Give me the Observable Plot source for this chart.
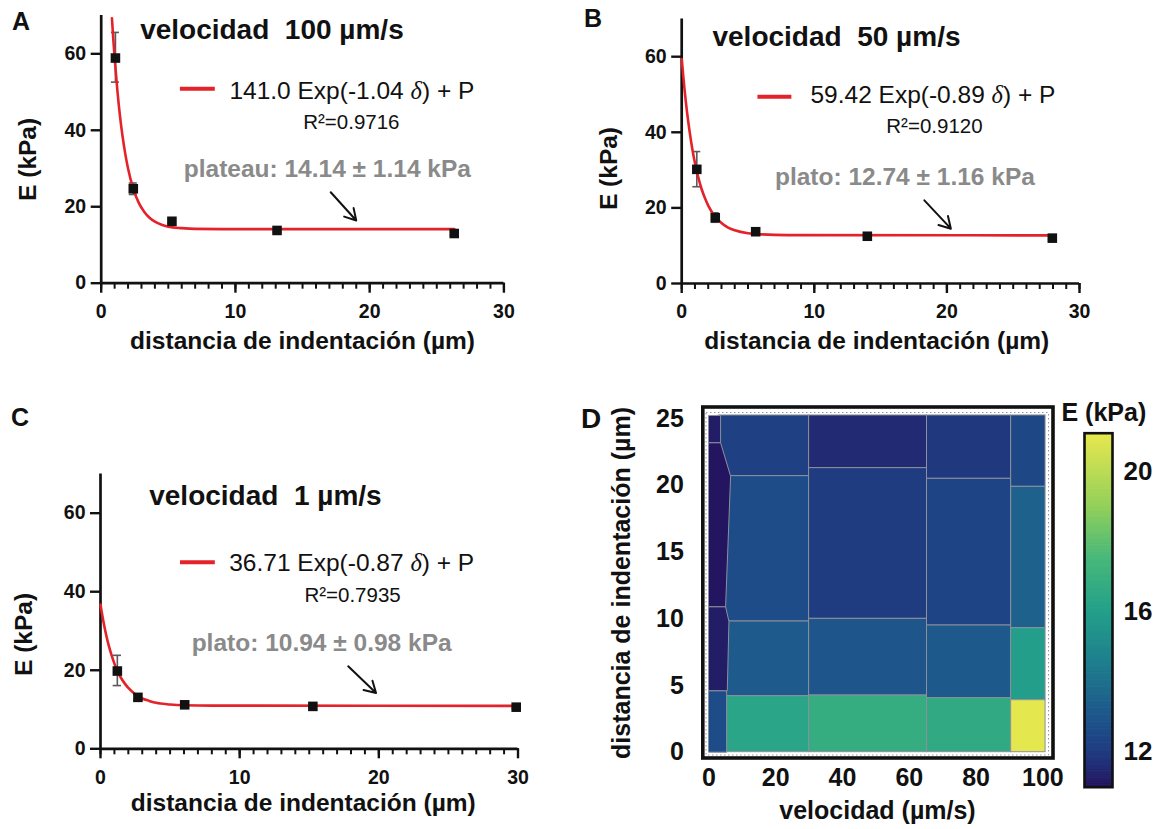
<!DOCTYPE html>
<html><head><meta charset="utf-8">
<script src="https://cdn.jsdelivr.net/npm/d3@7"></script>
<script src="https://cdn.jsdelivr.net/npm/@observablehq/plot@0.6"></script>
<style>
html,body{margin:0;padding:0;background:#fff;}
#fig{position:relative;width:1172px;height:829px;overflow:hidden;background:#fff;}
.panel{position:absolute;}
.panel svg{overflow:visible;display:block;}
#letters{position:absolute;left:0;top:0;}
</style></head><body><div id="fig"></div>
<script>
// ---------- Tick values ----------
const depthTicks = [0, 10, 20, 30];
const eTicks = [0, 20, 40, 60];
const velTicks = [0, 20, 40, 60, 80, 100];
const depthMapTicks = [0, 5, 10, 15, 20, 25];
const colorbarTicks = [12, 16, 20];

// ---------- Panel A: velocidad 100 µm/s ----------
const aDepth = [1.06, 2.39, 5.27, 13.1, 26.3];
const aE     = [58.9, 24.7, 16.2, 13.8, 13.0];
const aLo    = [52.6, 23.2, 15.7, 13.4, 12.6];
const aHi    = [65.6, 26.2, 16.7, 14.2, 13.4];
const aFitX  = [0.8, 0.9, 1.0, 1.2, 1.4, 1.6, 1.8, 2.0, 2.4, 2.8, 3.2, 3.6, 4.0, 4.5, 5.0, 6.0, 7.0, 9.0, 26.3];
const aFitE  = [69.3, 63.9, 59.0, 50.6, 43.7, 38.2, 33.7, 30.0, 24.6, 21.0, 18.7, 17.1, 16.1, 15.3, 14.8, 14.4, 14.2, 14.15, 14.14];

// ---------- Panel B: velocidad 50 µm/s ----------
const bDepth = [1.14, 2.53, 5.58, 14.0, 27.95];
const bE     = [30.2, 17.4, 13.7, 12.5, 12.0];
const bLo    = [25.6, 16.2, 13.2, 12.1, 11.6];
const bHi    = [34.9, 18.7, 14.2, 12.9, 12.4];
const bFitX  = [0, 0.2, 0.4, 0.6, 0.8, 1.0, 1.25, 1.5, 1.75, 2.0, 2.5, 3.0, 3.5, 4.0, 5.0, 6.0, 8.0, 28.0];
const bFitE  = [59.4, 51.8, 45.4, 40.1, 35.6, 31.9, 28.1, 25.0, 22.6, 20.6, 17.8, 16.0, 14.8, 14.1, 13.3, 13.0, 12.8, 12.74];

// ---------- Panel C: velocidad 1 µm/s ----------
const cDepth = [1.21, 2.69, 6.05, 15.26, 29.87];
const cE     = [19.8, 13.1, 11.2, 10.8, 10.6];
const cLo    = [16.1, 12.3, 10.8, 10.5, 10.3];
const cHi    = [23.8, 13.9, 11.6, 11.1, 10.9];
const cFitX  = [0, 0.2, 0.4, 0.6, 0.8, 1.0, 1.25, 1.5, 1.75, 2.0, 2.5, 3.0, 3.5, 4.0, 5.0, 6.0, 8.0, 30.0];
const cFitE  = [36.7, 32.6, 29.1, 26.2, 23.8, 21.7, 19.6, 17.9, 16.6, 15.5, 13.9, 12.8, 12.2, 11.7, 11.3, 11.1, 11.0, 10.94];

// ---------- Panel D: map of E (kPa) vs velocidad and distancia ----------
const cellVel1   = [3.0, 3.0, 3.0, 3.0,   30, 30, 30, 30,   65.3, 65.3, 65.3, 65.3,   90.5, 90.5, 90.5, 90.5];
const cellVel2   = [30, 30, 30, 30,   65.3, 65.3, 65.3, 65.3,   90.5, 90.5, 90.5, 90.5,   100.8, 100.8, 100.8, 100.8];
const cellDepth1 = [20.7, 9.8, 4.2, 0,   21.3, 10.0, 4.25, 0,   20.5, 9.5, 4.05, 0,   19.9, 9.3, 3.9, 0];
const cellDepth2 = [25.25, 20.7, 9.8, 4.2,   25.25, 21.3, 10.0, 4.25,   25.25, 20.5, 9.5, 4.05,   25.25, 19.9, 9.3, 3.9];
const cellE      = [12.2, 12.6, 13.2, 16.3,   11.5, 12.0, 13.0, 16.8,   11.9, 12.3, 13.1, 16.6,   12.4, 13.4, 15.9, 21.0];
// slowest column (irregular outline)
const edgeVel   = [[0, 3.5, 3.5, 0], [0, 3.5, 6.5, 5.0, 0], [0, 5.0, 6.0, 5.5, 0], [0, 5.3, 5.3, 0]];
const edgeDepth = [[25.25, 25.25, 23.2, 23.2], [23.2, 23.2, 20.7, 10.9, 10.9], [10.9, 10.9, 9.8, 4.6, 4.6], [4.6, 4.6, 0, 0]];
const edgeE     = [11.2, 11.0, 11.2, 12.6];

// colour map
const colorStops = [11.0, 11.5, 12.0, 12.6, 13.3, 14.5, 16.0, 17.5, 19.0, 21.1];
const colorRange = ["#241560", "#212a72", "#1f3c81", "#1e4c89", "#1e5e8c", "#1e7e8d", "#23a08a", "#47b87a", "#94d05a", "#e9e84e"];

// ---------- styling ----------
const FONT = "'Liberation Sans', Arial, Helvetica, sans-serif";
const INK = "#111";
const RED = "#e4222a";
const GREY = "#8a8a8a";

const fig = document.getElementById("fig");
function place(node, left, top, w) {
  const div = document.createElement("div");
  div.className = "panel";
  div.style.left = left + "px"; div.style.top = top + "px"; div.style.width = w + "px";
  div.appendChild(node);
  fig.appendChild(div);
}
function italicDelta(svg) {
  svg.querySelectorAll("text").forEach(t => {
    if (t.children.length === 0 && t.textContent.includes("δ")) {
      const [a, b] = t.textContent.split("δ");
      t.textContent = "";
      t.append(document.createTextNode(a));
      const ts = document.createElementNS("http://www.w3.org/2000/svg", "tspan");
      ts.setAttribute("font-family", "'Liberation Serif', 'DejaVu Serif', serif");
      ts.setAttribute("font-style", "italic");
      ts.textContent = "δ";
      t.append(ts);
      t.append(document.createTextNode(b));
    }
  });
}

function fitPanel(p) {
  const pts = p.depth.map((d, i) => ({x: d, y: p.E[i], lo: p.lo[i], hi: p.hi[i]}));
  const fit = p.fitX.map((d, i) => ({x: d, y: p.fitE[i]}));
  const L = p.L, A = p.ann;
  const svg = Plot.plot({
    width: L.width, height: L.height,
    marginLeft: L.ml, marginRight: L.mr, marginTop: L.mt, marginBottom: L.mb,
    x: {domain: [0, 30]},
    y: {domain: [0, 70]},
    style: {fontFamily: FONT, color: INK, background: "transparent", overflow: "visible", fontWeight: "bold", fontSize: "19px"},
    marks: [
      Plot.axisX({ticks: d3.range(0, 31), tickSize: 6, strokeWidth: 2, tickFormat: () => "", label: null}),
      Plot.axisX({ticks: depthTicks, tickSize: 10, tickPadding: 11, strokeWidth: 2.4, fontSize: 19.5, fontWeight: "bold", label: null}),
      Plot.axisY({ticks: eTicks, tickSize: 10, tickPadding: 5, strokeWidth: 2.4, fontSize: 19.5, fontWeight: "bold", label: null}),
      Plot.ruleY([0], {stroke: INK, strokeWidth: 2.7}),
      Plot.ruleX([0], {stroke: INK, strokeWidth: 2.7}),
      Plot.ruleX(pts, {x: "x", y1: "lo", y2: "hi", stroke: "#5a5a5a", strokeWidth: 1.6}),
      Plot.ruleY(pts, {y: "hi", x1: d => d.x - 0.3, x2: d => d.x + 0.3, stroke: "#5a5a5a", strokeWidth: 1.6}),
      Plot.ruleY(pts, {y: "lo", x1: d => d.x - 0.3, x2: d => d.x + 0.3, stroke: "#5a5a5a", strokeWidth: 1.6}),
      Plot.line(fit, {x: "x", y: "y", stroke: RED, strokeWidth: 2.6, curve: "monotone-x"}),
      Plot.dot(pts, {x: "x", y: "y", symbol: "square", r: 5.4, fill: INK, stroke: "none"}),
      // title
      Plot.text([p.title], {x: A.titleX, y: A.titleY, textAnchor: "start", lineAnchor: "bottom", fontSize: 28, fontWeight: "bold"}),
      // legend
      Plot.ruleY([A.legY], {x1: A.legX1, x2: A.legX2, stroke: RED, strokeWidth: 4}),
      Plot.text([p.legend], {x: A.legTX, y: A.legTY, textAnchor: "start", lineAnchor: "bottom", fontSize: 24.5, fontWeight: "normal"}),
      Plot.text([p.r2], {x: A.r2X, y: A.r2Y, textAnchor: "start", lineAnchor: "bottom", fontSize: 20.5, fontWeight: "normal"}),
      Plot.text([p.plateau], {x: A.plX, y: A.plY, textAnchor: "start", lineAnchor: "bottom", fontSize: 24.5, fontWeight: "bold", fill: GREY}),
      Plot.arrow([0], {x1: A.ar[0], y1: A.ar[1], x2: A.ar[2], y2: A.ar[3], stroke: INK, strokeWidth: 2, headLength: 11}),
      // axis titles
      Plot.text(["distancia de indentación (µm)"], {frameAnchor: "bottom", dx: L.xlDx, dy: L.xlDy, lineAnchor: "bottom", fontSize: 24.5, fontWeight: "bold"}),
      Plot.text(["E (kPa)"], {frameAnchor: "left", rotate: -90, dx: L.ylDx, dy: L.ylDy, lineAnchor: "top", textAnchor: "middle", fontSize: 24.5, fontWeight: "bold"})
    ]
  });
  italicDelta(svg);
  return svg;
}

place(fitPanel({
  depth: aDepth, E: aE, lo: aLo, hi: aHi, fitX: aFitX, fitE: aFitE,
  title: "velocidad\u00a0\u00a0100 µm/s", legend: "141.0 Exp(-1.04 δ) + P", r2: "R²=0.9716",
  plateau: "plateau: 14.14 ± 1.14 kPa",
  L: {width: 586, height: 380, ml: 100.7, mr: 82.6, mt: 15.1, mb: 97.3, xlDx: 0, xlDy: 65.6, ylDx: -82.9, ylDy: 10},
  ann: {titleX: 2.9, titleY: 63.9, legX1: 5.9, legX2: 8.5, legY: 50.85, legTX: 9.55, legTY: 48.2,
        r2X: 15.05, r2Y: 40.4, plX: 6.15, plY: 27.7, ar: [17.1, 23.8, 19.0, 16.4]}
}), 0, 0, 586);

place(fitPanel({
  depth: bDepth, E: bE, lo: bLo, hi: bHi, fitX: bFitX, fitE: bFitE,
  title: "velocidad\u00a0\u00a050 µm/s", legend: "59.42 Exp(-0.89 δ) + P", r2: "R²=0.9120",
  plateau: "plato: 12.74 ± 1.16 kPa",
  L: {width: 592, height: 380, ml: 101.2, mr: 93, mt: 18.4, mb: 97, xlDx: -3.8, xlDy: 65.3, ylDx: -82.3, ylDy: 17.3},
  ann: {titleX: 2.32, titleY: 62.7, legX1: 5.75, legX2: 8.31, legY: 49.4, legTX: 9.71, legTY: 47.8,
        r2X: 15.43, r2Y: 39.7, plX: 7.03, plY: 26.0, ar: [18.3, 22.0, 20.3, 14.5]}
}), 580, 0, 592);

place(fitPanel({
  depth: cDepth, E: cE, lo: cLo, hi: cHi, fitX: cFitX, fitE: cFitE,
  title: "velocidad\u00a0\u00a01 µm/s", legend: "36.71 Exp(-0.87 δ) + P", r2: "R²=0.7935",
  plateau: "plato: 10.94 ± 0.98 kPa",
  L: {width: 586, height: 439, ml: 100, mr: 68.5, mt: 83.4, mb: 80.7, xlDx: -6, xlDy: 61.7, ylDx: -85.7, ylDy: 23.1},
  ann: {titleX: 3.5, titleY: 62.0, legX1: 5.75, legX2: 8.25, legY: 47.5, legTX: 9.25, legTY: 45.4,
        r2X: 14.65, r2Y: 37.3, plX: 6.55, plY: 25.0, ar: [17.8, 21.0, 19.8, 14.2]}
}), 0, 390, 586);

// ---------- Panel D ----------
const cells = cellE.map((e, i) => ({v1: cellVel1[i], v2: cellVel2[i], d1: cellDepth1[i], d2: cellDepth2[i], E: e}));
const edgePts = edgeE.flatMap((e, k) => edgeVel[k].map((v, j) => ({id: k, v, d: edgeDepth[k][j], E: e})));
const colorScale = {type: "linear", domain: colorStops, range: colorRange};

const mapSvg = Plot.plot({
  width: 480, height: 439, marginLeft: 128.4, marginRight: 17.6, marginTop: 28.3, marginBottom: 77.3,
  x: {domain: [0, 100]}, y: {domain: [0, 25]},
  color: colorScale,
  style: {fontFamily: FONT, color: INK, background: "transparent", overflow: "visible", fontWeight: "bold", fontSize: "25px"},
  marks: [
    Plot.rect(cells, {x1: "v1", x2: "v2", y1: "d1", y2: "d2", fill: "E", stroke: "#8b909c", strokeWidth: 1}),
    Plot.line(edgePts, {x: "v", y: "d", z: "id", fill: "E", stroke: "#8b909c", strokeWidth: 1, curve: "linear-closed"}),
    Plot.frame({insetLeft: -2.9, insetRight: -5.6, insetTop: -6.3, insetBottom: -2.8, stroke: "#9a9a9a", strokeWidth: 1, strokeDasharray: "1.5 2.5"}),
    Plot.frame({insetLeft: -6.1, insetRight: -10.1, insetTop: -11.8, insetBottom: -5.8, stroke: INK, strokeWidth: 3.6}),
    Plot.axisX({ticks: velTicks, tickSize: 0, tickPadding: 16, fontSize: 25, fontWeight: "bold", label: null}),
    Plot.axisY({ticks: depthMapTicks, tickSize: 0, tickPadding: 25, fontSize: 25, fontWeight: "bold", label: null}),
    Plot.text(["velocidad (µm/s)"], {frameAnchor: "bottom", dx: 1.6, dy: 67, lineAnchor: "bottom", fontSize: 25, fontWeight: "bold"}),
    Plot.text(["distancia de indentación (µm)"], {frameAnchor: "left", rotate: -90, dx: -96.4, dy: -2.5, lineAnchor: "top", textAnchor: "middle", fontSize: 25, fontWeight: "bold"})
  ]
});
place(mapSvg, 580, 390, 480);

const colorbarSteps = d3.range(11.0, 21.1, 0.05);
const barSvg = Plot.plot({
  width: 112, height: 439, marginLeft: 24, marginRight: 60, marginTop: 42.7, marginBottom: 42.3,
  y: {domain: [11.0, 21.1]},
  color: colorScale,
  style: {fontFamily: FONT, color: INK, background: "transparent", overflow: "visible", fontWeight: "bold", fontSize: "26px"},
  marks: [
    Plot.rect(colorbarSteps, {y1: d => d, y2: d => Math.min(d + 0.07, 21.1), fill: d => d}),
    Plot.frame({stroke: INK, strokeWidth: 2.6}),
    Plot.axisY({anchor: "right", ticks: colorbarTicks, tickSize: 0, tickPadding: 11, fontSize: 26, fontWeight: "bold", label: null}),
    Plot.text(["E (kPa)"], {frameAnchor: "top-left", dx: -23, dy: -12.7, textAnchor: "start", lineAnchor: "bottom", fontSize: 25, fontWeight: "bold"})
  ]
});
place(barSvg, 1060, 390, 112);

// ---------- panel letters ----------
const letters = d3.create("svg").attr("id", "letters").attr("width", 1172).attr("height", 829)
  .style("font-family", FONT).style("font-weight", "bold").style("pointer-events", "none");
[["A", 12, 30, 25], ["B", 584, 27, 25], ["C", 11, 426, 25], ["D", 581, 428, 28]].forEach(([t, x, y, s]) =>
  letters.append("text").attr("x", x).attr("y", y).attr("font-size", s).attr("fill", INK).text(t));
fig.appendChild(letters.node());
</script></body></html>
